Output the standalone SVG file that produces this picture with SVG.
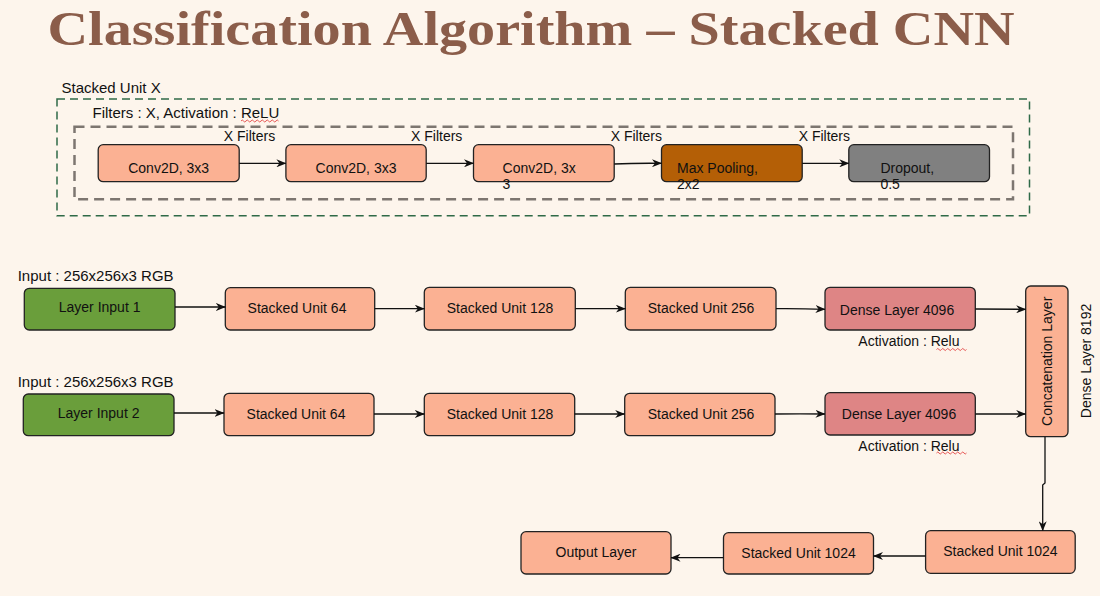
<svg xmlns="http://www.w3.org/2000/svg" width="1100" height="596" viewBox="0 0 1100 596">
<defs>
<marker id="arr" viewBox="0 0 10 8" refX="9.5" refY="4" markerWidth="10" markerHeight="8" markerUnits="userSpaceOnUse" orient="auto">
<path d="M0,0 L10,4 L0,8 L3,4 z" fill="#111"/>
</marker>
<style>
text{font-family:"Liberation Sans",Arial,sans-serif;fill:#111;}
.t14{font-size:14px;}
.t15{font-size:15px;}
.mid{text-anchor:middle;}
.box{stroke:#222;stroke-width:1.3;}
.sal{fill:#FBB193;}
.grn{fill:#6A9E3B;}
.den{fill:#DE8585;}
.mp{fill:#B45F06;}
.dp{fill:#808080;}
.con{fill:none;stroke:#111;stroke-width:1.3;marker-end:url(#arr);}
.sq{fill:none;stroke:#E03030;stroke-width:0.8;}
</style>
</defs>
<rect width="1100" height="596" fill="#FDF5EC"/>
<text x="47.5" y="44.5" textLength="967" lengthAdjust="spacingAndGlyphs" style="font-family:'Liberation Serif','DejaVu Serif',Georgia,serif;font-weight:bold;font-size:48px;fill:#8B5D4A;">Classification Algorithm – Stacked CNN</text>

<g id="stacked-unit-x">
<rect x="57" y="99" width="972.5" height="116.7" fill="none" stroke="#2F6A47" stroke-width="1.5" stroke-dasharray="8,5"/>
<text class="t15" x="61.5" y="93.3">Stacked Unit X</text>
<rect x="74.5" y="126.7" width="938.5" height="72.6" fill="none" stroke="#7D7670" stroke-width="2.5" stroke-dasharray="10,6"/>
<text class="t15" x="92.5" y="118.3">Filters : X, Activation : ReLU</text>
<path class="sq" d="M241,121 q1.25,-2 2.5,0 t2.5,0 t2.5,0 t2.5,0 t2.5,0 t2.5,0 t2.5,0 t2.5,0 t2.5,0 t2.5,0 t2.5,0 t2.5,0 t2.5,0 t2.5,0 t2.5,0"/>
</g>

<g id="conv1"><rect class="box sal" x="98.2" y="144.7" width="141" height="37" rx="5"/><text class="t14 mid" x="168.7" y="172.7">Conv2D, 3x3</text></g>
<g id="conv2"><rect class="box sal" x="285.9" y="144.7" width="140.3" height="37" rx="5"/><text class="t14 mid" x="356" y="172.7">Conv2D, 3x3</text></g>
<g id="conv3"><rect class="box sal" x="473.5" y="144.7" width="140.7" height="37" rx="5"/><text class="t14" x="502.6" y="172.7">Conv2D, 3x</text><text class="t14" x="502.6" y="189.3">3</text></g>
<g id="maxpool"><rect class="box mp" x="661.5" y="144.7" width="140.7" height="37" rx="5"/><text class="t14" x="677" y="172.7">Max Pooling,</text><text class="t14" x="677" y="189.3">2x2</text></g>
<g id="dropout"><rect class="box dp" x="848.8" y="144.7" width="140.7" height="37" rx="5"/><text class="t14" x="880.4" y="172.7">Dropout,</text><text class="t14" x="880.4" y="189.3">0.5</text></g>

<g id="filter-labels">
<text class="t14" x="223.8" y="141">X Filters</text>
<text class="t14" x="411" y="141">X Filters</text>
<text class="t14" x="610.7" y="141">X Filters</text>
<text class="t14" x="798.7" y="141">X Filters</text>
</g>

<g id="input1"><text class="t15" x="17.7" y="280.5">Input : 256x256x3 RGB</text><rect class="box grn" x="24.3" y="288.3" width="150.7" height="41.7" rx="5"/><text class="t14 mid" x="99.6" y="312">Layer Input 1</text></g>
<g id="input2"><text class="t15" x="17.7" y="387.3">Input : 256x256x3 RGB</text><rect class="box grn" x="23.3" y="394" width="150.7" height="41.7" rx="5"/><text class="t14 mid" x="98.6" y="418">Layer Input 2</text></g>

<g id="su64-1"><rect class="box sal" x="225.3" y="287.7" width="149.4" height="42.3" rx="5"/><text class="t14 mid" x="297" y="312.5">Stacked Unit 64</text></g>
<g id="su128-1"><rect class="box sal" x="424.3" y="287.3" width="151" height="42.7" rx="5"/><text class="t14 mid" x="500" y="313">Stacked Unit 128</text></g>
<g id="su256-1"><rect class="box sal" x="625.3" y="287.3" width="150.7" height="42.7" rx="5"/><text class="t14 mid" x="701" y="313">Stacked Unit 256</text></g>
<g id="dense-1"><rect class="box den" x="825" y="287.3" width="150.3" height="42.7" rx="5"/><text class="t14 mid" x="897" y="315">Dense Layer 4096</text>
<text class="t14" x="858.3" y="346">Activation : Relu</text>
<path class="sq" d="M936.5,349.5 q1.25,-2 2.5,0 t2.5,0 t2.5,0 t2.5,0 t2.5,0 t2.5,0 t2.5,0 t2.5,0 t2.5,0 t2.5,0 t2.5,0 t2.5,0"/></g>

<g id="su64-2"><rect class="box sal" x="224" y="393.3" width="150" height="42.4" rx="5"/><text class="t14 mid" x="296" y="418.5">Stacked Unit 64</text></g>
<g id="su128-2"><rect class="box sal" x="424.3" y="393.3" width="150.4" height="42.4" rx="5"/><text class="t14 mid" x="500" y="418.5">Stacked Unit 128</text></g>
<g id="su256-2"><rect class="box sal" x="624.7" y="393.3" width="150.3" height="42.4" rx="5"/><text class="t14 mid" x="701" y="418.5">Stacked Unit 256</text></g>
<g id="dense-2"><rect class="box den" x="825" y="392.7" width="150.3" height="42.3" rx="5"/><text class="t14 mid" x="899" y="418.5">Dense Layer 4096</text>
<text class="t14" x="858.3" y="451">Activation : Relu</text>
<path class="sq" d="M936.5,453 q1.25,-2 2.5,0 t2.5,0 t2.5,0 t2.5,0 t2.5,0 t2.5,0 t2.5,0 t2.5,0 t2.5,0 t2.5,0 t2.5,0 t2.5,0"/></g>

<g id="concat"><rect class="box sal" x="1025.7" y="286" width="42.3" height="150.7" rx="5"/><text class="t14 mid" transform="translate(1051.5,361.3) rotate(-90)">Concatenation Layer</text></g>
<g id="dense8192"><text class="t14 mid" transform="translate(1091,361) rotate(-90)">Dense Layer 8192</text></g>

<g id="su1024-a"><rect class="box sal" x="925.6" y="530.7" width="149.6" height="42.6" rx="5"/><text class="t14 mid" x="1000.4" y="555.5">Stacked Unit 1024</text></g>
<g id="su1024-b"><rect class="box sal" x="723.5" y="532.7" width="150" height="41.3" rx="5"/><text class="t14 mid" x="798.5" y="557.5">Stacked Unit 1024</text></g>
<g id="output"><rect class="box sal" x="521" y="531.7" width="150" height="42.3" rx="5"/><text class="t14 mid" x="596" y="556.5">Output Layer</text></g>

<g id="connectors">
<path class="con" d="M239.2,163.3 L285.9,163.3"/>
<path class="con" d="M426.2,163.3 L473.5,163.3"/>
<path class="con" d="M614.2,164 Q635,163 661.5,163.3"/>
<path class="con" d="M802.2,163.3 L848.8,163.3"/>
<path class="con" d="M175,307 L225.3,307"/>
<path class="con" d="M374.7,308.7 L424.3,308.7"/>
<path class="con" d="M575.3,308.7 L625.3,308.7"/>
<path class="con" d="M776,308.7 Q800,308.5 825,309.3"/>
<path class="con" d="M975.3,309 L1025.7,309.3"/>
<path class="con" d="M174,413 L224,413"/>
<path class="con" d="M374,414 L424.3,414"/>
<path class="con" d="M574.7,414 L624.7,414"/>
<path class="con" d="M775,414 Q800,413.6 825,414"/>
<path class="con" d="M975.3,414 L1025.7,414"/>
<path class="con" d="M1045,436.7 L1045,483 L1042.7,485 L1042.7,530.7"/>
<path class="con" d="M925.6,556 L873.5,556"/>
<path class="con" d="M723.5,557.7 L671,557.7"/>
</g>
</svg>
